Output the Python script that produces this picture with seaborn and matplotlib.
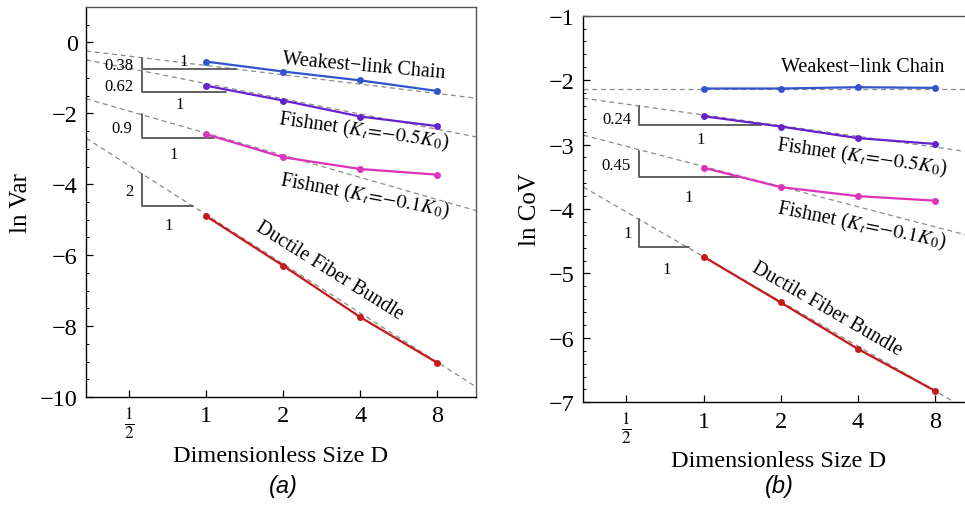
import numpy as np
import pandas as pd
import seaborn as sns
import matplotlib.pyplot as plt
from matplotlib.ticker import FixedLocator, MultipleLocator

sns.set_theme(style="ticks")
plt.rcParams["font.family"] = ["Liberation Serif", "DejaVu Serif"]
plt.rcParams["mathtext.fontset"] = "stix"
plt.rcParams["text.color"] = "black"
plt.rcParams["axes.labelcolor"] = "black"
plt.rcParams["xtick.color"] = "black"
plt.rcParams["ytick.color"] = "black"

# Specimen sizes (log2 scale on the x axis)
sizes = [1, 2, 4, 8]
size_ticks = [0.5, 1, 2, 4, 8]
size_tick_labels = [r"$\frac{1}{2}$", "1", "2", "4", "8"]

models = ["Weakest\u2212link Chain",
          r"Fishnet ($K_t\!=\!{-}0.5K_0$)",
          r"Fishnet ($K_t\!=\!{-}0.1K_0$)",
          "Ductile Fiber Bundle"]
colors = ["#3355cc", "#6622cc", "#dd33bb", "#c41a1a"]

# (a) ln of variance
var_weakest = [-0.54, -0.82, -1.07, -1.37]
var_fish05 = [-1.22, -1.64, -2.09, -2.36]
var_fish01 = [-2.59, -3.24, -3.57, -3.73]
var_ductile = [-4.90, -6.30, -7.75, -9.04]
var_slopes = [0.38, 0.62, 0.9, 2.0]           # asymptotic slopes in ln-ln
var_offsets = [-0.65, -1.16, -2.56, -4.86]     # asymptote value at D = 1
var_slope_labels = ["0.38", "0.62", "0.9", "2"]

# (b) ln of coefficient of variation
cov_weakest = [-2.13, -2.13, -2.11, -2.12]
cov_fish05 = [-2.56, -2.72, -2.90, -2.99]
cov_fish01 = [-3.36, -3.66, -3.80, -3.87]
cov_ductile = [-4.74, -5.45, -6.17, -6.82]
cov_slopes = [0.0, 0.24, 0.45, 1.0]
cov_offsets = [-2.14, -2.54, -3.34, -4.74]
cov_slope_labels = ["0.24", "0.45", "1"]

fig = plt.figure(figsize=(9.65, 5.06), dpi=100)
W, H = 965, 506
ax_a = fig.add_axes([86 / W, 1 - 398 / H, 390 / W, 390 / H])
ax_b = fig.add_axes([583.3 / W, 1 - 403.3 / H, 390 / W, 386.6 / H])

XLIM = (-1.56, 3.5)


def draw_panel(ax, series, offsets, slopes):
    xs = np.log2(sizes)
    rows = []
    for name, vals in zip(models, series):
        for x, v in zip(xs, vals):
            rows.append({"x": x, "y": v, "model": name})
    df = pd.DataFrame(rows)
    # dashed asymptotes
    xl = np.array(XLIM)
    for off, s in zip(offsets, slopes):
        ax.plot(xl, off - s * np.log(2) * xl, ls=(0, (4, 3)), color="#8c8c8c",
                lw=0.9, zorder=1)
    sns.lineplot(data=df, x="x", y="y", hue="model", palette=colors,
                 hue_order=models, marker="o", markersize=5, markeredgewidth=0,
                 lw=1.6, legend=False, ax=ax, zorder=3)


def style_axes(ax, ylim, major, minor):
    ax.set_xlim(*XLIM)
    ax.set_ylim(*ylim)
    ax.xaxis.set_major_locator(FixedLocator(np.log2(size_ticks)))
    ax.set_xticklabels(size_tick_labels)
    ax.yaxis.set_major_locator(MultipleLocator(major))
    ax.yaxis.set_minor_locator(MultipleLocator(minor))
    ax.tick_params(axis="both", which="major", direction="in", length=5,
                   width=0.9, labelsize=17.5, color="black", pad=6)
    ax.tick_params(axis="y", which="minor", direction="in", length=2.5,
                   width=0.7, color="black")
    ax.yaxis.set_major_formatter(
        plt.FuncFormatter(lambda v, p: f"{v:.0f}".replace("-", "\u2212")))
    for side in ["left", "bottom"]:
        ax.spines[side].set_color("black")
        ax.spines[side].set_linewidth(1.0)
    for side in ["top", "right"]:
        ax.spines[side].set_visible(True)
        ax.spines[side].set_color("#555555")
        ax.spines[side].set_linewidth(1.0)
    ax.set_xlabel("Dimensionless Size D", fontsize=17.5, labelpad=3)


def slope_triangle(ax, x0, x1, ytop, ybot, label, lx, ly, one_x, one_y):
    ax.plot([x0, x0, x1], [ytop, ybot, ybot], color="#555555", lw=1.3,
            zorder=2)
    ax.text(lx, ly, label, fontsize=12, ha="center", va="center")
    ax.text(one_x, one_y, "1", fontsize=12, ha="center", va="center")


# ---- panel (a) ----
draw_panel(ax_a, [var_weakest, var_fish05, var_fish01, var_ductile],
           var_offsets, var_slopes)
style_axes(ax_a, (-10, 1), 2, 0.5)
ax_a.set_ylabel("ln Var", fontsize=18, labelpad=6)

slope_triangle(ax_a, -0.835, 0.386, -0.44, -0.75, var_slope_labels[0],
               -1.13, -0.63, -0.29, -0.53)
slope_triangle(ax_a, -0.835, 0.256, -0.80, -1.40, var_slope_labels[1],
               -1.13, -1.23, -0.35, -1.74)
slope_triangle(ax_a, -0.835, 0.104, -2.02, -2.70, var_slope_labels[2],
               -1.10, -2.42, -0.42, -3.16)
slope_triangle(ax_a, -0.835, -0.178, -3.70, -4.60, var_slope_labels[3],
               -1.0, -4.20, -0.49, -5.16)

ax_a.text(2.05, -0.64, models[0], fontsize=14.5, rotation=-5,
          ha="center", va="center")
ax_a.text(2.04, -2.48, models[1], fontsize=14.5, rotation=-8,
          ha="center", va="center")
ax_a.text(2.05, -4.31, models[2], fontsize=14.5, rotation=-10.5,
          ha="center", va="center")
ax_a.text(1.6, -6.43, models[3], fontsize=14.5, rotation=-32,
          ha="center", va="center")

# ---- panel (b) ----
draw_panel(ax_b, [cov_weakest, cov_fish05, cov_fish01, cov_ductile],
           cov_offsets, cov_slopes)
style_axes(ax_b, (-7, -1), 1, 0.2)
ax_b.set_ylabel("ln CoV", fontsize=18, labelpad=6)

slope_triangle(ax_b, -0.835, 0.748, -2.40, -2.70, cov_slope_labels[0],
               -1.13, -2.61, -0.04, -2.92)
slope_triangle(ax_b, -0.835, 0.465, -3.10, -3.50, cov_slope_labels[1],
               -1.13, -3.31, -0.19, -3.82)
slope_triangle(ax_b, -0.835, -0.19, -4.15, -4.59, cov_slope_labels[2],
               -0.99, -4.38, -0.48, -4.93)

ax_b.text(2.06, -1.79, models[0], fontsize=14.5, ha="center", va="center")
ax_b.text(2.05, -3.19, models[1], fontsize=14.5, rotation=-8,
          ha="center", va="center")
ax_b.text(2.05, -4.25, models[2], fontsize=14.5, rotation=-11.5,
          ha="center", va="center")
ax_b.text(1.6, -5.54, models[3], fontsize=14.5, rotation=-30,
          ha="center", va="center")

# panel captions
fig.text(283 / W, 1 - 487 / H, "(a)", fontsize=17, style="italic",
         family=["Liberation Sans", "DejaVu Sans"], ha="center", va="center")
fig.text(779 / W, 1 - 487 / H, "(b)", fontsize=17, style="italic",
         family=["Liberation Sans", "DejaVu Sans"], ha="center", va="center")

fig.savefig("out.png", dpi=100)
